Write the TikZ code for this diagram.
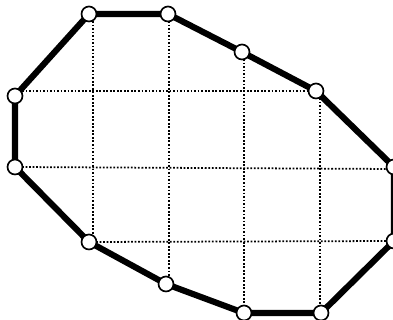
\documentclass[tikz,border=0pt]{standalone}
\begin{document}
\begin{tikzpicture}[x=0.02cm,y=-0.02cm,
  vtx/.style={circle,draw=black,fill=white,line width=0.95pt,minimum size=0.30cm,inner sep=0pt},
  edge/.style={line width=3.5pt,line join=round},
  gridline/.style={line width=1pt,dash pattern=on 1pt off 1pt}]
\useasboundingbox (0,0) rectangle (393,320);
% grid line end points
\coordinate (h1a) at (15,91);  \coordinate (h1b) at (316,91);
\coordinate (h2a) at (15,167); \coordinate (h2b) at (393,169);
\coordinate (h3a) at (89,242); \coordinate (h3b) at (393,241);
\coordinate (v1a) at (93,14);  \coordinate (v1b) at (93,242);
\coordinate (v2a) at (169,14); \coordinate (v2b) at (169,284);
\coordinate (v3a) at (244,52); \coordinate (v3b) at (244,313);
\coordinate (v4a) at (320,91); \coordinate (v4b) at (320,313);
\draw[gridline] (h1a) -- (h1b);
\draw[gridline] (h2a) -- (h2b);
\draw[gridline] (h3a) -- (h3b);
\draw[gridline] (v1a) -- (v1b);
\draw[gridline] (v2a) -- (v2b);
\draw[gridline] (v3a) -- (v3b);
\draw[gridline] (v4a) -- (v4b);
% vertices
\coordinate (A) at (89,14);
\coordinate (B) at (168,14);
\coordinate (C) at (242,52);
\coordinate (D) at (316,91);
\coordinate (E) at (394,167);
\coordinate (F) at (394,241);
\coordinate (G) at (321,313);
\coordinate (H) at (244,313);
\coordinate (I) at (166,284);
\coordinate (J) at (89,242);
\coordinate (K) at (15,167);
\coordinate (L) at (15,96);
\draw[edge] (A) -- (B) -- (C) -- (D) -- (E) -- (F) -- (G) -- (H) -- (I) -- (J) -- (K) -- (L) -- cycle;
\foreach \p in {A,B,C,D,E,F,G,H,I,J,K,L}
  \node[vtx] (n\p) at (\p) {};
\end{tikzpicture}
\end{document}
